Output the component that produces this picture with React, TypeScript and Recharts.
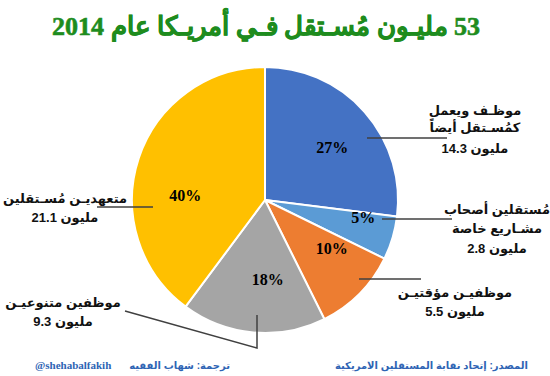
import React from "react";
import { PieChart, Pie, Cell } from "recharts";

// 53 million freelancers in the US, 2014 (millions)
const segments = ["blue", "lightblue", "orange", "gray", "yellow"];
const millions = [14.3, 2.8, 5.5, 9.3, 21.1];
const categoryLines = [
  ["موظـف ويعمل", "كمُسـتقل أيضاً"],
  ["مُستقلين أصحاب", "مشـاريع خاصة"],
  ["موظفيـن مؤقتيـن"],
  ["موظفين متنوعيـن"],
  ["متعهديـن مُسـتقلين"],
];
const COLORS = ["#4472C4", "#5B9BD5", "#ED7D31", "#A5A5A5", "#FFC000"];

const data = segments.map((name, i) => ({ name, value: millions[i] }));

// label placement tweaks (degrees off the mid angle, fraction of radius)
const pctNudge = [-3.6, 6.4, 9, 7, 15];
const pctRadius = [0.64, 0.75, 0.62, 0.6, 0.6];

// callout leader lines + text, relative to pie centre
const callouts = [
  { path: [[102, -62], [182, -62]], tx: 210, ty: -90 },
  { path: [[117, 19], [187, 19]], tx: 232, ty: 9 },
  { path: [[94, 79], [156, 79]], tx: 190, ty: 92 },
  { path: [[-8, 115], [-8, 148], [-140, 111]], tx: -202, ty: 102 },
  { path: [[-112, 7], [-168, 7]], tx: -200, ty: -2 },
];

const RAD = Math.PI / 180;
const arabicFont = "Arial, 'Liberation Sans', 'DejaVu Sans', sans-serif";
const serifFont = "'Times New Roman', 'Liberation Serif', 'DejaVu Serif', serif";

const renderLabel = (props: any) => {
  const { cx, cy, midAngle, outerRadius, percent, index } = props;
  const ang = (midAngle + pctNudge[index]) * RAD;
  const r = outerRadius * pctRadius[index];
  const x = cx + r * Math.cos(ang);
  const y = cy - r * Math.sin(ang);
  const c = callouts[index];
  const lines = [...categoryLines[index], `${millions[index]} مليون`];
  const lineGap = index === 0 ? [0, 17, 38] : [0, 19, 39];
  return (
    <g key={`lbl-${index}`}>
      <polyline
        points={c.path.map(([px, py]) => `${cx + px},${cy + py}`).join(" ")}
        fill="none"
        stroke="#404040"
        strokeWidth={1.5}
      />
      <text
        x={x}
        y={y}
        textAnchor="middle"
        dominantBaseline="central"
        fontFamily={serifFont}
        fontWeight="bold"
        fontSize={16}
        fill="#000"
      >
        {`${Math.round(percent * 100)}%`}
      </text>
      {lines.map((t, i) => (
        <text
          key={i}
          x={cx + c.tx}
          y={cy + c.ty + lineGap[i]}
          textAnchor="middle"
          dominantBaseline="central"
          fontFamily={arabicFont}
          fontWeight="bold"
          fontSize={13}
          fill="#111"
        >
          {t}
        </text>
      ))}
    </g>
  );
};

export default function App() {
  return (
    <div
      style={{
        position: "absolute",
        left: 0,
        top: 0,
        width: 550,
        height: 376,
        background: "#fff",
      }}
    >
      <PieChart width={550} height={376}>
        <text
          x={266}
          y={26}
          textAnchor="middle"
          dominantBaseline="central"
          direction="rtl"
          fontFamily={serifFont}
          fontWeight="bold"
          fontSize={26}
          fill="#1E8C1E"
          stroke="#1E8C1E"
          strokeWidth={0.6}
        >
          53 مليـون مُسـتقل فـي أمريـكا عام 2014
        </text>
        <Pie
          data={data}
          dataKey="value"
          nameKey="name"
          cx={260}
          cy={195}
          outerRadius={133}
          startAngle={90}
          endAngle={-270}
          stroke="#fff"
          strokeWidth={2}
          label={renderLabel}
          labelLine={false}
          isAnimationActive={false}
        >
          {data.map((entry, index) => (
            <Cell key={`cell-${index}`} fill={COLORS[index]} />
          ))}
        </Pie>
        <text
          x={528}
          y={365}
          textAnchor="start"
          dominantBaseline="central"
          direction="rtl"
          fontFamily={arabicFont}
          fontWeight="bold"
          fontSize={10}
          fill="#2E64B4"
        >
          المصدر: إتحاد نقابة المستقلين الامريكية
        </text>
        <text
          x={230}
          y={365}
          textAnchor="start"
          dominantBaseline="central"
          direction="rtl"
          fontFamily={arabicFont}
          fontWeight="bold"
          fontSize={10}
          fill="#2E64B4"
        >
          ترجمة: شهاب الفقيه
        </text>
        <text
          x={35}
          y={365}
          textAnchor="start"
          dominantBaseline="central"
          fontFamily={serifFont}
          fontWeight="bold"
          fontSize={11}
          fill="#2E64B4"
        >
          @shehabalfakih
        </text>
      </PieChart>
    </div>
  );
}
